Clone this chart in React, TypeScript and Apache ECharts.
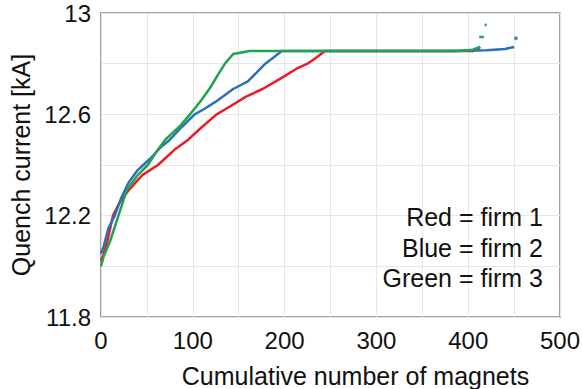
import React, { useEffect, useRef } from "react";
import * as echarts from "echarts";

const red: [number, number][] = [
  [0, 12.02], [3, 12.05], [7, 12.1], [13, 12.2], [20, 12.25], [30, 12.3], [45, 12.36],
  [62, 12.4], [80, 12.46], [95, 12.5], [110, 12.55], [126, 12.6], [140, 12.63], [158, 12.67],
  [176, 12.7], [195, 12.74], [213, 12.78], [225, 12.8], [235, 12.825], [244, 12.85],
  [405, 12.85], [410, 12.857], [413, 12.866],
];
const blue: [number, number][] = [
  [0, 12.05], [3, 12.08], [8, 12.15], [15, 12.2], [22, 12.27], [30, 12.33], [40, 12.38],
  [46, 12.4], [55, 12.43], [65, 12.47], [75, 12.5], [88, 12.55], [102, 12.6], [112, 12.62],
  [125, 12.65], [144, 12.7], [160, 12.73], [179, 12.8], [190, 12.83], [197, 12.85],
  [380, 12.85], [420, 12.853], [440, 12.858], [450, 12.866],
];
const green: [number, number][] = [
  [0, 12.0], [3, 12.04], [10, 12.1], [19, 12.2], [28, 12.3], [40, 12.36], [51, 12.4],
  [60, 12.45], [70, 12.5], [85, 12.55], [97, 12.6], [108, 12.65], [118, 12.7], [128, 12.76],
  [135, 12.8], [144, 12.838], [162, 12.85], [390, 12.85], [405, 12.855], [413, 12.866],
];
const greenDash: [number, number][] = [[412, 12.905], [417, 12.905]];
const greenDot: [number, number][] = [[419, 12.953]];
const blueDot: [number, number][] = [[452, 12.9]];
const notes = ["Red = firm 1", "Blue = firm 2", "Green = firm 3"];

const RED = "#ec1c24";
const BLUE = "#2b6fbe";
const GREEN = "#20a34c";

export default function App() {
  const ref = useRef<HTMLDivElement>(null);
  useEffect(() => {
    if (!ref.current) return;
    const chart = echarts.init(ref.current, undefined, { renderer: "svg" });
    const font = "'Liberation Sans', Arial, sans-serif";
    chart.setOption({
      animation: false,
      grid: {
        left: 101, right: 22, top: 13, bottom: 72, show: true,
        containLabel: false, outerBoundsMode: "none",
        borderColor: "#808080", borderWidth: 1.5, backgroundColor: "#fff",
      },
      xAxis: {
        type: "value", min: 0, max: 500, interval: 50,
        name: "Cumulative number of magnets", nameLocation: "middle", nameGap: 46,
        nameTextStyle: { fontSize: 25, color: "#111", fontFamily: font, padding: [0, 0, 0, 50] },
        axisLine: { show: false }, axisTick: { show: false },
        axisLabel: {
          fontSize: 24, color: "#111", fontFamily: font, margin: 11,
          formatter: (v: number) => (Math.round(v) % 100 === 0 ? String(Math.round(v)) : ""),
        },
        splitLine: { lineStyle: { color: "#e6e6e6", width: 1 } },
      },
      yAxis: {
        type: "value", min: 11.8, max: 13, interval: 0.2,
        name: "Quench current [kA]", nameLocation: "middle", nameGap: 58,
        nameTextStyle: { fontSize: 25, color: "#111", fontFamily: font },
        axisLine: { show: false }, axisTick: { show: false },
        axisLabel: {
          fontSize: 24, color: "#111", fontFamily: font, margin: 10,
          formatter: (v: number) => {
            const t = Math.round(v * 10);
            return (t - 118) % 4 === 0 ? String(t / 10) : "";
          },
        },
        splitLine: { lineStyle: { color: "#e6e6e6", width: 1 } },
      },
      series: [
        { type: "line", data: red, showSymbol: false, lineStyle: { color: RED, width: 2.5 }, z: 2 },
        { type: "line", data: blue, showSymbol: false, lineStyle: { color: BLUE, width: 2.5 }, z: 3 },
        { type: "line", data: green, showSymbol: false, lineStyle: { color: GREEN, width: 2.5 }, z: 4 },
        { type: "line", data: greenDash, showSymbol: false, lineStyle: { color: GREEN, width: 2.5 }, z: 4 },
        { type: "scatter", data: greenDot, symbolSize: 3, itemStyle: { color: GREEN }, z: 4 },
        { type: "scatter", data: blueDot, symbolSize: 4, itemStyle: { color: BLUE }, z: 4 },
      ],
      graphic: notes.map((t, i) => ({
        type: "text", x: 543, y: 217 + i * 30.5, z: 10,
        style: {
          text: t, fill: "#111", font: `25px ${font}`,
          align: "right", verticalAlign: "middle",
        },
      })),
    });
    return () => chart.dispose();
  }, []);
  return <div ref={ref} style={{ position: "fixed", left: 0, top: 0, width: 582, height: 389, background: "#fff" }} />;
}
